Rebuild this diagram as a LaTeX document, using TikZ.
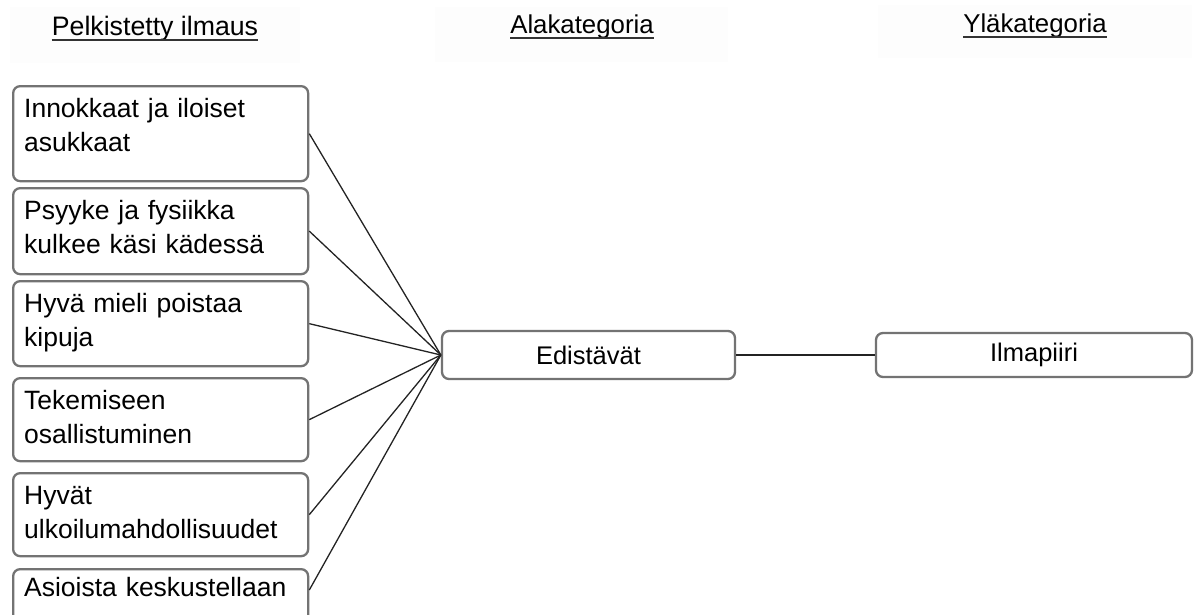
\documentclass[tikz,border=0pt]{standalone}
\usepackage{fontspec}
\setmainfont{Liberation Sans}
\definecolor{boxline}{RGB}{115,115,115}
\definecolor{wire}{RGB}{35,35,35}
\definecolor{bandgray}{RGB}{253,253,253}
\begin{document}
\begin{tikzpicture}[x=1pt,y=-1pt,
  band/.style={fill=bandgray, draw=none},
  head/.style={inner sep=0pt, anchor=base},
  headline/.style={line width=2pt, draw=black!80},
  leaf/.style={draw=boxline, line width=2.3pt, rounded corners=7pt, fill=white,
    anchor=north west, minimum width=295pt, text width=273pt, align=left,
    inner xsep=11pt, inner ysep=0pt, text height=31pt,
    font=\fontsize{26.5}{34.5}\selectfont},
  cat/.style={draw=boxline, line width=2.3pt, rounded corners=7pt, fill=white,
    inner sep=0pt, font=\fontsize{25.5}{30}\selectfont},
  link/.style={draw=wire, line width=1.3pt},
]
\useasboundingbox (0,0) rectangle (1199,614);
\clip (0,0) rectangle (1199,614);

% column headings
\fill[band] (10,7) rectangle (300,63);
\fill[band] (435,7) rectangle (728,62);
\fill[band] (878,5) rectangle (1192,58);
\node[head, font=\fontsize{26.7}{30}\selectfont] (h1) at (155,35) {Pelkistetty ilmaus};
\node[head, font=\fontsize{25.8}{30}\selectfont] (h2) at (582,33) {Alakategoria};
\node[head, font=\fontsize{25.8}{30}\selectfont] (h3) at (1035,32) {Yläkategoria};
\foreach \h in {h1,h2,h3}
  \draw[headline] ([yshift=-4.5pt]\h.base west) -- ([yshift=-4.5pt]\h.base east);

% reduced expressions
\node[leaf, text depth=64pt] (b1) at (12,85)  {Innokkaat ja iloiset\\asukkaat};
\node[leaf, text depth=55pt] (b2) at (12,187) {Psyyke ja fysiikka\\kulkee käsi kädessä};
\node[leaf, text depth=54pt] (b3) at (12,280) {Hyvä mieli poistaa\\kipuja};
\node[leaf, text depth=52pt] (b4) at (12,377) {Tekemiseen\\osallistuminen};
\node[leaf, text depth=52pt] (b5) at (12,472) {Hyvät\\ulkoilumahdollisuudet};
\node[leaf, text height=27pt, text depth=60pt] (b6) at (12,568) {Asioista keskustellaan};

% sub- and main category
\node[cat, minimum width=293pt, minimum height=48pt] (ed) at (588.5,355) {Edistävät};
\node[cat, minimum width=316pt, minimum height=44pt] (il) at (1034,355) {Ilmapiiri};

% connectors
\foreach \b in {b1,b2,b3,b4,b5}
  \draw[link] (\b.east) -- (ed.west);
\draw[link] ([yshift=-22pt]b6.north east) -- (ed.west);
\draw[link, line width=1.5pt] (ed.east) -- (il.west);
\end{tikzpicture}
\end{document}
